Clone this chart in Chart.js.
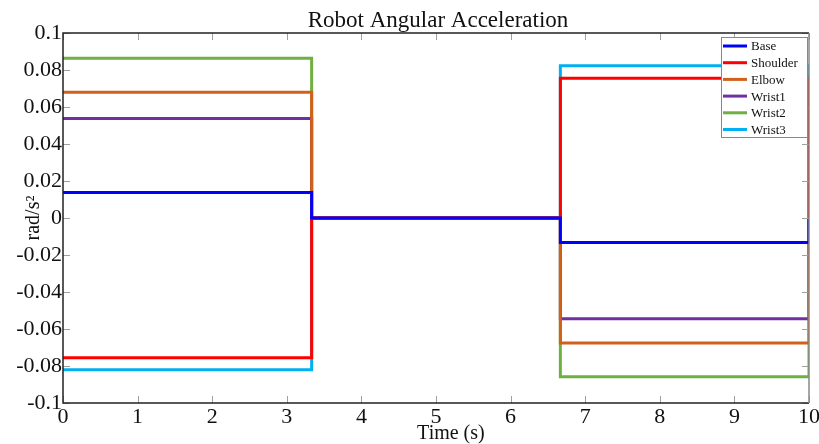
<!DOCTYPE html>
<html>
<head>
<meta charset="utf-8">
<script src="https://cdn.jsdelivr.net/npm/chart.js@4/dist/chart.umd.min.js"></script>
<style>
html,body{margin:0;padding:0;background:#fff;}
#wrap{width:819px;height:444px;}
</style>
</head>
<body>
<div id="wrap"><canvas id="c" width="819" height="444"></canvas></div>
<script>
// Time samples (s): segment edges
const times = [0, 3.333, 3.333, 6.667, 6.667, 10, 10];
const seriesNames = ['Base', 'Shoulder', 'Elbow', 'Wrist1', 'Wrist2', 'Wrist3'];
const baseVals     = [0.0138, 0.0138, 0, 0, -0.0133, -0.0133, 0];
const shoulderVals = [-0.0756, -0.0756, 0, 0, 0.0755, 0.0755, 0];
const elbowVals    = [0.0680, 0.0680, 0, 0, -0.0676, -0.0676, 0];
const wrist1Vals   = [0.0538, 0.0538, 0, 0, -0.0545, -0.0545, 0];
const wrist2Vals   = [0.0864, 0.0864, 0, 0, -0.0858, -0.0858, 0];
const wrist3Vals   = [-0.0820, -0.0820, 0, 0, 0.0823, 0.0823, 0];
const xTicks = [0, 1, 2, 3, 4, 5, 6, 7, 8, 9, 10];
const yTicks = [-0.1, -0.08, -0.06, -0.04, -0.02, 0, 0.02, 0.04, 0.06, 0.08, 0.1];
const chartTitle = 'Robot Angular Acceleration';
const xTitle = 'Time (s)';

const colors = ['#0000ff', '#ff0000', '#d2601a', '#7030a0', '#6fb041', '#00b0f0'];
const allVals = [baseVals, shoulderVals, elbowVals, wrist1Vals, wrist2Vals, wrist3Vals];

const SERIF = '"Liberation Serif", "Times New Roman", serif';

const datasets = seriesNames.map((name, i) => ({
  label: name,
  data: times.map((t, k) => ({x: t, y: allVals[i][k]})),
  borderColor: colors[i],
  backgroundColor: colors[i],
  borderWidth: 3,
  pointRadius: 0,
  fill: false,
  tension: 0
}));

const framePlugin = {
  id: 'frame',
  afterDraw(chart) {
    const ctx = chart.ctx;
    const {left, right, top, bottom} = chart.chartArea;
    const xs = chart.scales.x, ys = chart.scales.y;
    ctx.save();
    // title centred over plot area
    ctx.fillStyle = '#111';
    ctx.font = '23px ' + SERIF;
    ctx.textAlign = 'center';
    ctx.textBaseline = 'alphabetic';
    ctx.fillText(chartTitle, (left + right) / 2 + 2, 27);
    // x axis title
    ctx.font = '20px ' + SERIF;
    ctx.fillText(xTitle, xs.getPixelForValue(5.2), 439);
    // inward tick marks
    ctx.strokeStyle = '#a0a0a0';
    ctx.lineWidth = 1;
    ctx.beginPath();
    xTicks.forEach(v => {
      const px = Math.round(xs.getPixelForValue(v)) + 0.5;
      ctx.moveTo(px, bottom); ctx.lineTo(px, bottom - 7);
      ctx.moveTo(px, top); ctx.lineTo(px, top + 7);
    });
    yTicks.forEach(v => {
      const py = Math.round(ys.getPixelForValue(v)) + 0.5;
      ctx.moveTo(left, py); ctx.lineTo(left + 7, py);
      ctx.moveTo(right, py); ctx.lineTo(right - 7, py);
    });
    ctx.stroke();
    // frame
    ctx.lineWidth = 1.5;
    ctx.strokeStyle = '#222';
    ctx.beginPath();
    ctx.moveTo(right, top); ctx.lineTo(left, top); ctx.lineTo(left, bottom); ctx.lineTo(right, bottom);
    ctx.stroke();
    ctx.strokeStyle = '#888';
    ctx.beginPath();
    ctx.moveTo(right, top); ctx.lineTo(right, bottom);
    ctx.stroke();

    // legend box
    const bx = 721, by = 37, bw = 86, bh = 100;
    ctx.fillStyle = '#fff';
    ctx.fillRect(bx, by, bw, bh);
    ctx.strokeStyle = '#888';
    ctx.lineWidth = 1;
    ctx.strokeRect(bx + 0.5, by + 0.5, bw, bh);
    ctx.font = '13px ' + SERIF;
    ctx.textBaseline = 'middle';
    ctx.textAlign = 'left';
    chart.data.datasets.forEach((ds, i) => {
      const yy = 46 + i * 16.7;
      ctx.strokeStyle = ds.borderColor;
      ctx.lineWidth = 3;
      ctx.beginPath();
      ctx.moveTo(723, yy); ctx.lineTo(747, yy);
      ctx.stroke();
      ctx.fillStyle = '#111';
      ctx.fillText(ds.label, 751, yy + 1);
    });
    ctx.restore();
  }
};

new Chart(document.getElementById('c'), {
  type: 'line',
  data: {datasets},
  options: {
    responsive: false,
    animation: false,
    layout: {padding: {left: 0, right: 10, top: 33, bottom: 0}},
    plugins: {
      legend: {display: false},
      tooltip: {enabled: false},
      title: {display: false}
    },
    scales: {
      x: {
        type: 'linear',
        min: 0, max: 10,
        afterBuildTicks(s) { s.ticks = xTicks.map(v => ({value: v})); },
        afterFit(s) { s.height = 41; s.paddingRight = 0; s.paddingLeft = 0; },
        grid: {display: false, drawTicks: false, tickLength: 0},
        border: {display: false},
        ticks: {
          color: '#111',
          font: {family: SERIF, size: 22},
          padding: 1,
          maxRotation: 0,
          autoSkip: false,
          callback: v => String(v)
        },
        title: {display: false}
      },
      y: {
        min: -0.1, max: 0.1,
        afterBuildTicks(s) { s.ticks = yTicks.map(v => ({value: v})); },
        afterFit(s) { s.width = 63; s.paddingTop = 0; s.paddingBottom = 0; },
        grid: {display: false, drawTicks: false, tickLength: 0},
        border: {display: false},
        ticks: {
          color: '#111',
          font: {family: SERIF, size: 22},
          padding: 1,
          autoSkip: false,
          callback: v => String(+v.toFixed(2))
        },
        title: {
          display: true,
          text: 'rad/s\u00B2',
          color: '#111',
          font: {family: SERIF, size: 20},
          padding: {top: 22, bottom: 0}
        }
      }
    }
  },
  plugins: [framePlugin]
});
</script>
</body>
</html>
